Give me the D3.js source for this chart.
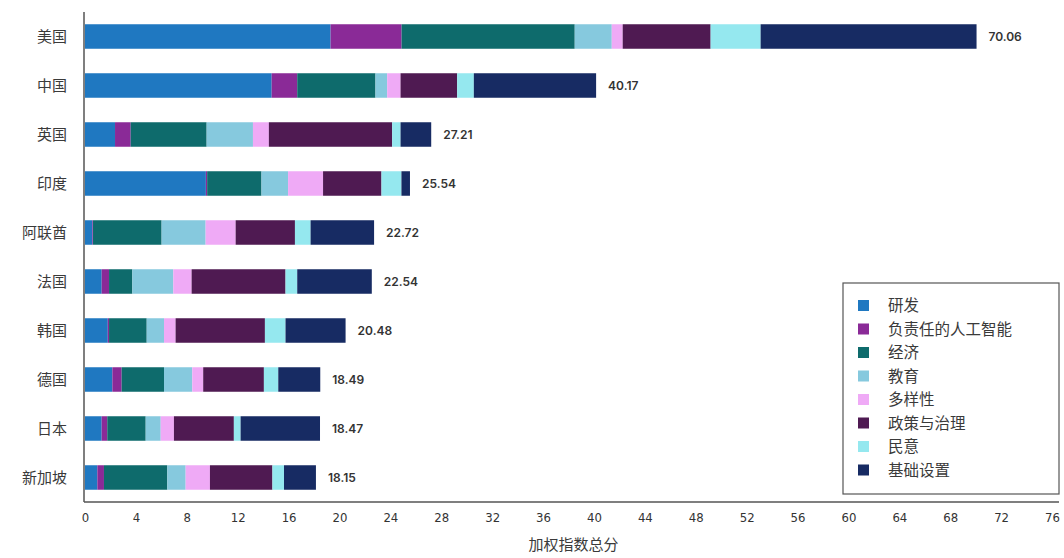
<!DOCTYPE html>
<html>
<head>
<meta charset="utf-8">
<script src="https://cdn.jsdelivr.net/npm/d3@7"></script>
<style>
  body { margin: 0; background: #fff; }
  svg { display: block; font-family: "Noto Sans CJK SC", "Noto Sans", sans-serif; }
</style>
</head>
<body>
<svg id="chart" width="1064" height="558"></svg>
<script>
// Countries, top to bottom
const countries = ["美国", "中国", "英国", "印度", "阿联酋", "法国", "韩国", "德国", "日本", "新加坡"];
// Weighted index components
const categories = ["研发", "负责任的人工智能", "经济", "教育", "多样性", "政策与治理", "民意", "基础设置"];
const colors = ["#1f78c1", "#8a2a97", "#0e6b6c", "#86c9de", "#efaaf6", "#4f1a52", "#95e8ef", "#172b63"];

const rnd   = [19.30, 14.67, 2.36, 9.50, 0.58, 1.31, 1.79, 2.15, 1.31, 0.97];
const resp  = [ 5.58,  2.01, 1.23, 0.10, 0.05, 0.58, 0.10, 0.73, 0.44, 0.52];
const econ  = [13.61,  6.15, 5.97, 4.27, 5.39, 1.83, 2.96, 3.33, 3.02, 4.98];
const edu   = [ 2.91,  0.92, 3.64, 2.09, 3.46, 3.22, 1.36, 2.22, 1.18, 1.44];
const diver = [ 0.86,  1.05, 1.25, 2.75, 2.36, 1.44, 0.91, 0.86, 1.04, 1.91];
const pol   = [ 6.91,  4.45, 9.69, 4.59, 4.66, 7.38, 7.02, 4.77, 4.71, 4.91];
const opin  = [ 3.93,  1.31, 0.66, 1.57, 1.23, 0.92, 1.62, 1.13, 0.53, 0.91];
const infra = [16.97,  9.61, 2.41, 0.67, 4.99, 5.86, 4.72, 3.30, 6.24, 2.51];
const totals = [70.06, 40.17, 27.21, 25.54, 22.72, 22.54, 20.48, 18.49, 18.47, 18.15];
const xTicks = d3.range(0, 77, 4);

const series = [rnd, resp, econ, edu, diver, pol, opin, infra];
const rows = countries.map((c, i) => {
  const r = { country: c };
  categories.forEach((k, j) => { r[k] = series[j][i]; });
  return r;
});

const svg = d3.select("#chart");
const plotLeft = 84, plotRight = 1059, plotTop = 12, plotBottom = 502;

const x = d3.scaleLinear().domain([0, 76]).range([plotLeft + 1, 1052]);
const y = d3.scaleBand().domain(countries).range([plotTop, plotBottom]).paddingInner(0.5).paddingOuter(0.25);
const color = d3.scaleOrdinal().domain(categories).range(colors);

const stacked = d3.stack().keys(categories)(rows);

// Stacked bars
svg.append("g").selectAll("g")
  .data(stacked).join("g")
  .attr("fill", d => color(d.key))
  .selectAll("rect")
  .data(d => d).join("rect")
  .attr("x", d => x(d[0]))
  .attr("y", d => y(d.data.country))
  .attr("width", d => Math.max(0, x(d[1]) - x(d[0])))
  .attr("height", y.bandwidth());

// Total labels
svg.append("g").selectAll("text")
  .data(countries).join("text")
  .attr("x", (c, i) => x(totals[i]) + 12)
  .attr("y", c => y(c) + y.bandwidth() / 2)
  .attr("dy", "0.35em")
  .attr("font-size", 12)
  .attr("font-weight", 600)
  .attr("fill", "#333")
  .attr("font-family", "Inter, 'Noto Sans', sans-serif")
  .text((c, i) => totals[i].toFixed(2));

// Country labels
svg.append("g").selectAll("text")
  .data(countries).join("text")
  .attr("x", 67)
  .attr("y", c => y(c) + y.bandwidth() / 2)
  .attr("dy", "0.35em")
  .attr("text-anchor", "end")
  .attr("font-size", 15)
  .attr("fill", "#3a3a3a")
  .text(c => c);

// Axis lines
svg.append("line")
  .attr("x1", plotLeft).attr("x2", plotLeft).attr("y1", plotTop).attr("y2", plotBottom)
  .attr("stroke", "#555").attr("stroke-width", 1.5);
svg.append("line")
  .attr("x1", plotLeft).attr("x2", plotRight).attr("y1", plotBottom).attr("y2", plotBottom)
  .attr("stroke", "#555").attr("stroke-width", 1.5);

// X axis tick labels
const xAxis = svg.append("g")
  .attr("transform", `translate(0,${plotBottom})`)
  .call(d3.axisBottom(x).tickValues(xTicks).tickSize(0).tickPadding(11));
xAxis.select(".domain").remove();
xAxis.selectAll("text")
  .attr("font-size", 13)
  .attr("fill", "#333")
  .attr("font-family", "'DejaVu Sans', sans-serif")
  .style("font-stretch", "condensed");

// Axis title
svg.append("text")
  .attr("x", (plotLeft + plotRight) / 2 + 2)
  .attr("y", 550)
  .attr("text-anchor", "middle")
  .attr("font-size", 15)
  .attr("fill", "#3a3a3a")
  .text("加权指数总分");

// Legend
const lg = svg.append("g");
lg.append("rect")
  .attr("x", 843).attr("y", 283).attr("width", 216).attr("height", 211)
  .attr("fill", "#fff").attr("stroke", "#555").attr("stroke-width", 1.2);
const item = lg.selectAll("g.item")
  .data(categories).join("g")
  .attr("class", "item")
  .attr("transform", (d, i) => `translate(858,${306 + i * 23.5})`);
item.append("rect")
  .attr("x", 0).attr("y", -6).attr("width", 11).attr("height", 11)
  .attr("fill", d => color(d));
item.append("text")
  .attr("x", 30).attr("dy", "0.35em")
  .attr("font-size", 15.5)
  .attr("fill", "#3a3a3a")
  .text(d => d);
</script>
</body>
</html>
